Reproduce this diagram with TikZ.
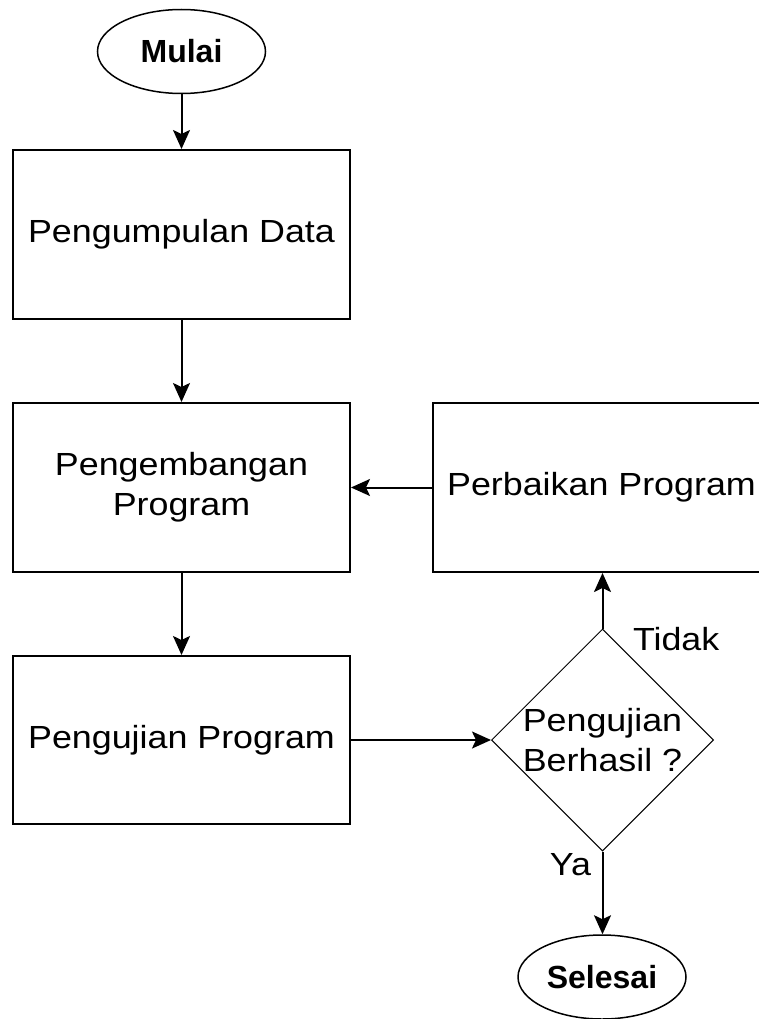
\documentclass[tikz,border=0pt]{standalone}
\usepackage{fontspec}
\setmainfont{Liberation Sans}
\newfontfamily\widefont{Liberation Sans}[FakeStretch=1.12]
\usetikzlibrary{arrows.meta,shapes.geometric}
\tikzset{
	stepbox/.style={draw, line width=2pt, minimum width=337pt, minimum height=169pt, inner sep=0pt, align=center, font=\widefont\fontsize{32}{40}\selectfont},
	endnode/.style={draw, ellipse, line width=1.5pt, minimum width=168pt, minimum height=84pt, inner sep=0pt, font=\bfseries\fontsize{32}{40}\selectfont},
	choice/.style={draw, diamond, line width=1pt, minimum width=222pt, minimum height=222pt, inner sep=0pt},
	lbl/.style={inner sep=0pt, align=center, font=\widefont\fontsize{32}{40}\selectfont},
	flow/.style={line width=2pt, -{Stealth[length=19pt, width=17pt, inset=4pt]}},
}

\begin{document}
\begin{tikzpicture}[x=1pt, y=-1pt]
		%%%%% START %%%%%
		\useasboundingbox (0, 0) rectangle (759, 1019);
		
		\node[endnode] (mulai) at (181.5, 51.5) {Mulai};
		\node[stepbox] (collect) at (181.5, 234.5) {Pengumpulan Data};
		\node[stepbox] (develop) at (181.5, 487.5) {Pengembangan\\Program};
		\node[stepbox, minimum height=168pt] (test) at (181.5, 740) {Pengujian Program};
		
		\node[stepbox] (fix) at (601.5, 487.5) {Perbaikan Program};
		\node[choice, label={[lbl]center:Pengujian\\Berhasil ?}] (check) at (602.5, 740) {};
		\node[endnode] (selesai) at (602, 977) {Selesai};
		
		\draw[flow] (mulai) -- (collect);
		\draw[flow] (collect) -- (develop);
		\draw[flow] (develop) -- (test);
		\draw[flow] (test) -- (check);
		\draw[flow] (fix) -- (develop);
		
		\draw[flow] (check.north) -- node[pos=0, lbl, anchor=west, xshift=29.5pt, yshift=-11pt] {Tidak} (check.north |- fix.south);
		\draw[flow] (check.south) -- node[pos=0, lbl, anchor=east, xshift=-10.5pt, yshift=-13pt] {Ya} (check.south |- selesai.north);
		
		%%%%% END %%%%%
	\end{tikzpicture}
\end{document}
